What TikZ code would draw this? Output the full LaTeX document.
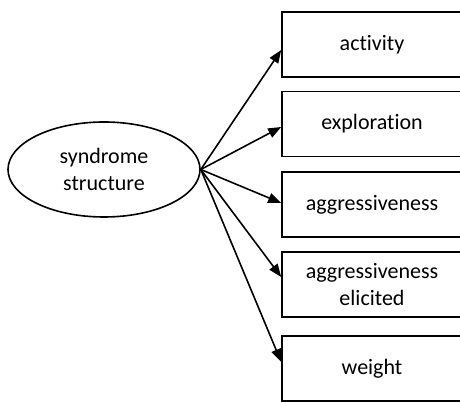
\documentclass[tikz,border=0pt]{standalone}
\usepackage{fontspec}
\setmainfont[Ligatures=NoCommon]{Carlito}
\usetikzlibrary{arrows.meta,shapes.geometric}

\begin{document}
\begin{tikzpicture}[x=1pt,y=1pt,line width=1.6pt,
  every node/.style={font=\fontsize{22}{27}\selectfont,align=center},
  trait/.style={draw,rectangle,minimum width=180pt,minimum height=65pt,inner sep=0pt},
  factor/.style={draw,ellipse,minimum width=192pt,minimum height=95pt,inner sep=0pt},
  load/.style={-{Triangle[length=13pt,width=10pt]}}]
\useasboundingbox (0,0) rectangle (460,403);
\node[factor] (syn) at (104,233.5) {syndrome\\structure};
\node[trait] (act) at (372,358.5) {activity};
\node[trait] (exp) at (372,279) {exploration};
\node[trait] (agg) at (372,198.5) {aggressiveness};
\node[trait] (agge) at (372,118.5) {aggressiveness\\elicited};
\node[trait] (wt) at (372,34.5) {weight};
\foreach \n/\s in {act/-5.5,exp/-3,agg/1.5,agge/7.5,wt/6.5}
  \draw[load] (syn.east) -- ([yshift=\s pt]\n.west);
\end{tikzpicture}
\end{document}
